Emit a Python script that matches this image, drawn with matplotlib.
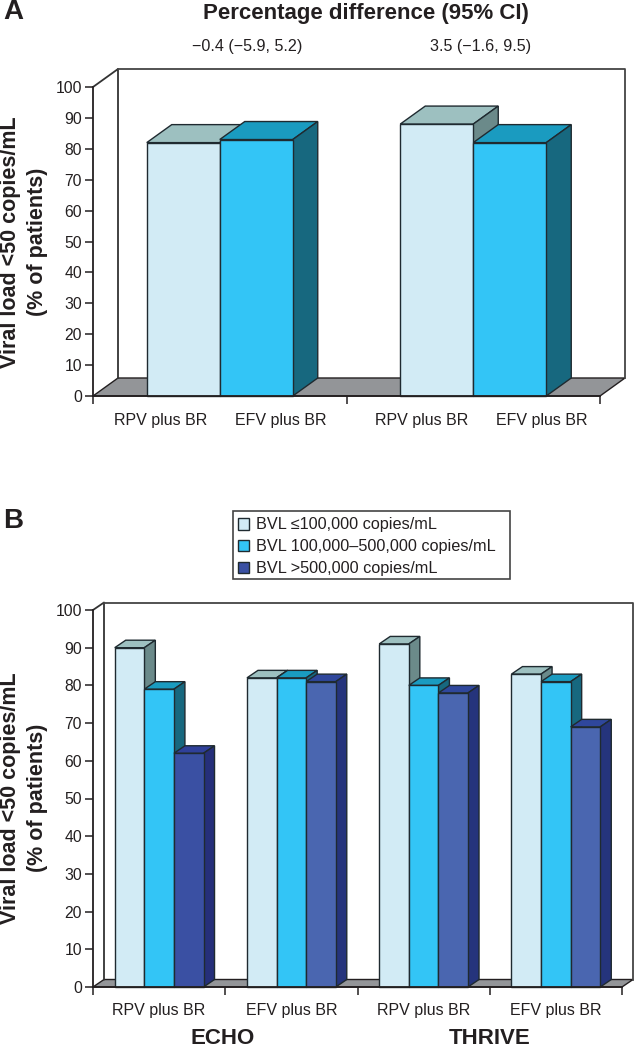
import numpy as np
import matplotlib
matplotlib.use('Agg')
import matplotlib.pyplot as plt
from matplotlib.patches import Patch, Rectangle

plt.rcParams['font.family'] = ['Liberation Sans', 'DejaVu Sans']

W, H = 635, 1051
TEXT = '#231f20'

# panel A
a_values = [[82, 83], [88, 82]]
a_labels = ['RPV plus BR', 'EFV plus BR', 'RPV plus BR', 'EFV plus BR']
a_diffs = ['\u22120.4 (\u22125.9, 5.2)', '3.5 (\u22121.6, 9.5)']

# panel B
b_values = [[90, 79, 62], [82, 82, 81], [91, 80, 78], [83, 81, 69]]
b_labels = ['RPV plus BR', 'EFV plus BR', 'RPV plus BR', 'EFV plus BR']
b_legend = ['BVL \u2264100,000 copies/mL', 'BVL 100,000\u2013500,000 copies/mL', 'BVL >500,000 copies/mL']
yticks = list(range(0, 101, 10))

# front, top, side
LIGHT = ('#d2ebf5', '#9dc0c0', '#6b8a8a')
MID = ('#33c5f6', '#1a9bc0', '#17687f')
DARK = ('#4a66b0', '#2f479c', '#25347c')
DARKER = ('#3a50a3', '#2f409a', '#252f7a')
FLOOR = '#939598'
EDGE = '#1f2a30'


def make_axes(fig, left, right, top, bottom):
    ax = fig.add_axes([left / W, 1 - bottom / H, (right - left) / W, (bottom - top) / H])
    ax.patch.set_visible(False)
    ax.spines['top'].set_visible(False)
    ax.spines['right'].set_visible(False)
    for s in ['left', 'bottom']:
        ax.spines[s].set_linewidth(1.3)
        ax.spines[s].set_color(TEXT)
        ax.spines[s].set_zorder(50)
    ax.set_ylim(0, 100)
    ax.set_yticks(yticks)
    ax.tick_params(axis='y', labelsize=11.3, length=6, width=1.1, pad=2, colors=TEXT)
    ax.tick_params(axis='x', length=6, width=1.1, colors=TEXT)
    return ax


def draw_room(ax, xmax, dx, dy):
    # floor and back wall of the fake 3d box
    ax.fill([0, dx, xmax + dx, xmax], [0, dy, dy, 0], facecolor=FLOOR, edgecolor=TEXT,
            lw=1, clip_on=False, zorder=1)
    ax.plot([0, dx, dx], [100, 100 + dy, dy], color='#333333', lw=1.3, clip_on=False, zorder=2)
    ax.plot([dx, xmax + dx, xmax + dx], [100 + dy, 100 + dy, dy], color='#444444', lw=1.3, clip_on=False, zorder=2)


def draw_bar(ax, x0, width, val, dx, dy, colors, z):
    front, top, side = colors
    ax.fill([x0, x0 + dx, x0 + width + dx, x0 + width], [val, val + dy, val + dy, val],
            facecolor=top, edgecolor=EDGE, lw=1, clip_on=False, zorder=z)
    ax.fill([x0 + width, x0 + width + dx, x0 + width + dx, x0 + width], [val, val + dy, dy, 0],
            facecolor=side, edgecolor=EDGE, lw=1, clip_on=False, zorder=z)
    ax.bar(x0, val, width=width, align='edge', color=front, edgecolor=EDGE, lw=1, clip_on=False, zorder=z + 0.5)


fig = plt.figure(figsize=(W / 100, H / 100), dpi=100)

# ---- panel A
ax = make_axes(fig, 93, 600, 87, 396)
ax.set_xlim(0, 2)
dx = 25 / 253.5
dy = 18 / 3.09
draw_room(ax, 2, dx, dy)
bw = 73 / 253.5
z = 5
for g, vals in enumerate(a_values):
    for i, v in enumerate(vals):
        draw_bar(ax, g + 0.5 - bw + i * bw, bw, v, dx, dy, [LIGHT, MID][i], z)
        z += 1
ax.set_xticks([0, 1, 2])
ax.set_xticklabels([])
for xpos, lab in zip([0.265, 0.74, 1.296, 1.77], a_labels):
    ax.annotate(lab, (xpos, 0), xytext=(0, -24), xycoords='data', textcoords='offset pixels',
                ha='center', va='center', fontsize=11.5, color=TEXT, annotation_clip=False)

# ---- panel B
bx = make_axes(fig, 93, 622, 610, 987)
bx.set_xlim(0, 4)
dx = 11 / 132.25
dy = 7.5 / 3.77
draw_room(bx, 4, dx, dy)
bw = 29.6 / 132.25
z = 5
for g, vals in enumerate(b_values):
    for i, v in enumerate(vals):
        c = [LIGHT, MID, DARKER if g == 0 else DARK][i]
        draw_bar(bx, g + 0.5 - 1.5 * bw + i * bw, bw, v, dx, dy, c, z)
        z += 1
bx.set_xticks([0, 1, 2, 3, 4])
bx.set_xticklabels([])
for g, lab in enumerate(b_labels):
    bx.annotate(lab, (g + 0.5, 0), xytext=(0, -24), xycoords='data', textcoords='offset pixels',
                ha='center', va='center', fontsize=11.5, color=TEXT, annotation_clip=False)

# legend box is wider than the text, so the frame is drawn by hand
fig.add_artist(Rectangle((233 / W, 1 - 579 / H), 277 / W, 68 / H, transform=fig.transFigure,
                         facecolor='white', edgecolor='#444444', lw=1.2))
handles = [Patch(facecolor=c[0], edgecolor=EDGE, lw=1) for c in [LIGHT, MID, DARKER]]
leg = fig.legend(handles, b_legend, loc='upper left', bbox_to_anchor=(231 / W, 1 - 511 / H),
                 fontsize=11.7, frameon=False, handlelength=0.7, handleheight=0.7,
                 handletextpad=0.45, labelspacing=0.42, borderaxespad=0, borderpad=0.4,
                 labelcolor=TEXT)
leg.set_zorder(10)

# ---- text outside the axes
def put(x, y, s, **kw):
    kw.setdefault('color', TEXT)
    fig.text(x / W, 1 - y / H, s, ha='center', va='center', **kw)

put(13, 12, 'A', fontsize=20, fontweight='bold')
put(13, 521, 'B', fontsize=20, fontweight='bold')
put(366, 13, 'Percentage difference (95% CI)', fontsize=16, fontweight='bold')
put(247, 47, a_diffs[0], fontsize=11.6)
put(481, 47, a_diffs[1], fontsize=11.6)
put(223, 1039, 'ECHO', fontsize=16, fontweight='bold')
put(490, 1039, 'THRIVE', fontsize=16, fontweight='bold')
for yc in [242, 798]:
    put(11, yc, 'Viral load <50 copies/mL', fontsize=15.5, fontweight='bold', rotation=90)
    put(38, yc, '(% of patients)', fontsize=15.5, fontweight='bold', rotation=90)

fig.savefig('out.png', dpi=100, facecolor='white')
